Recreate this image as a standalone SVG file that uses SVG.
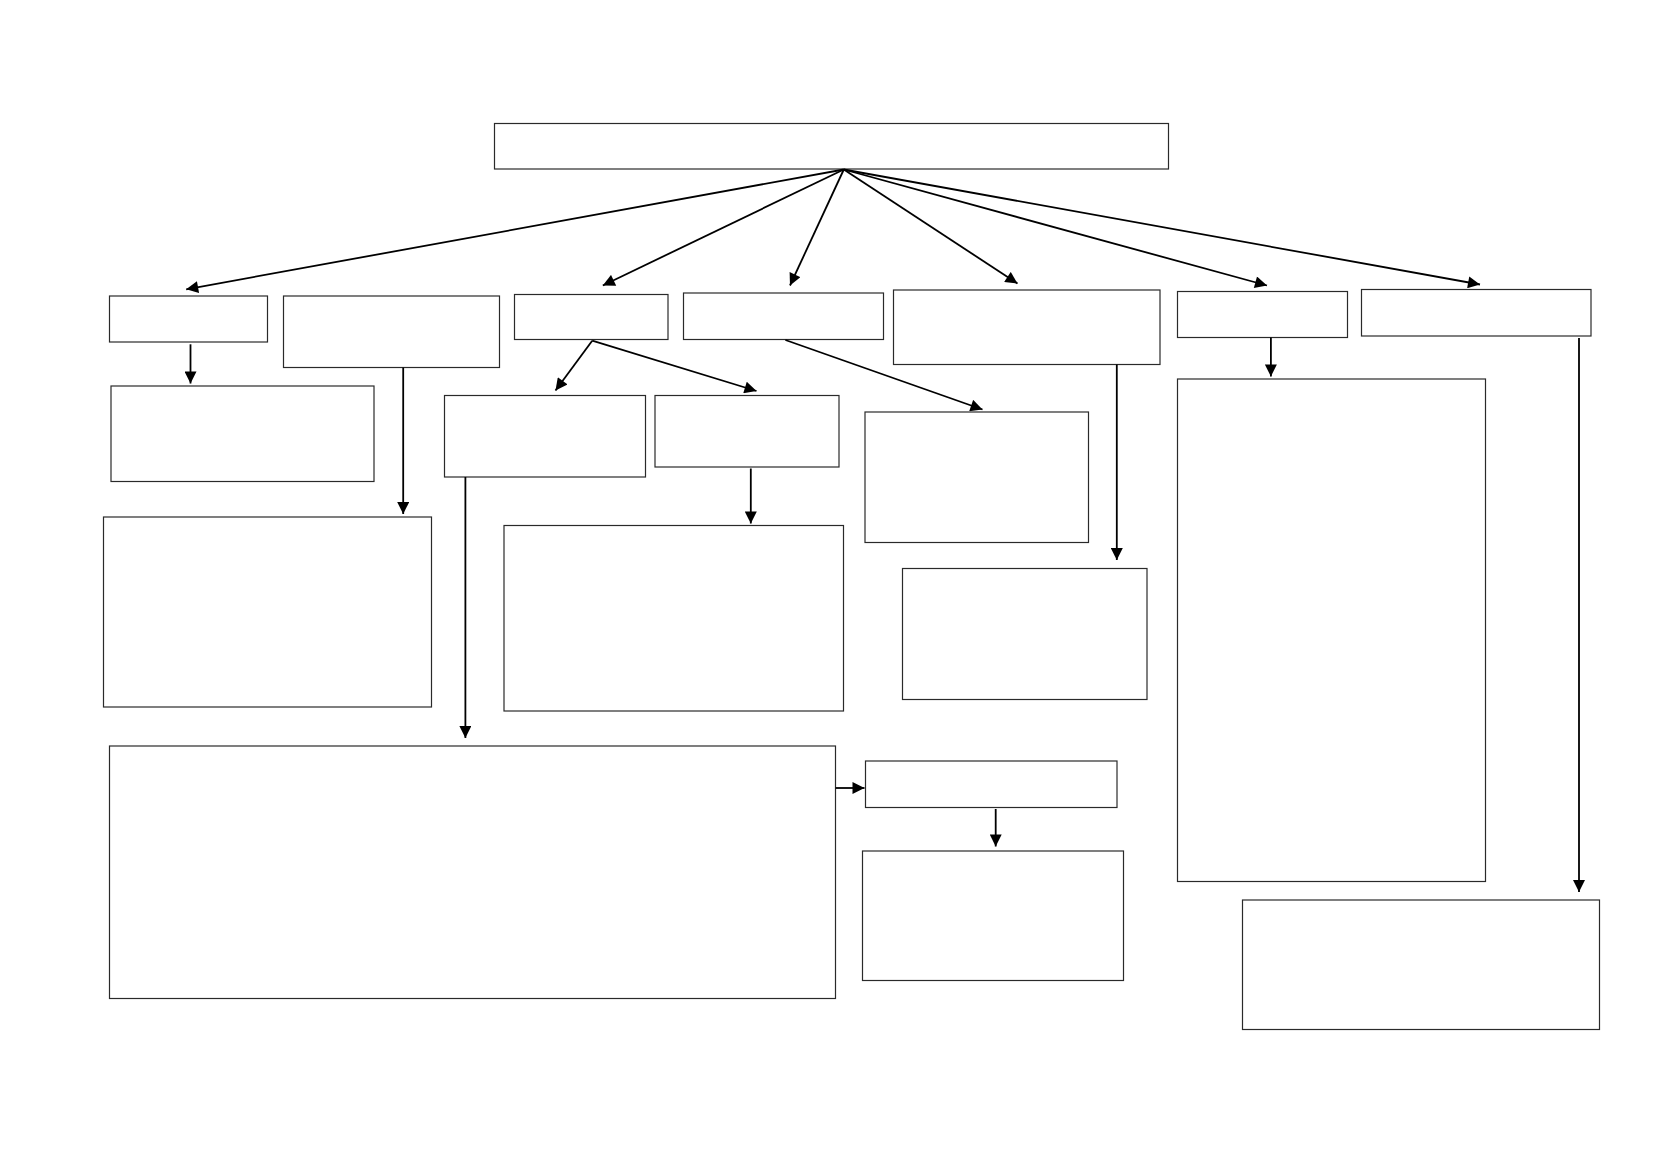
<svg xmlns="http://www.w3.org/2000/svg" width="1662" height="1175" viewBox="0 0 1662 1175">
<style>
.box{fill:#fff;stroke:#2a2a2a;stroke-width:1.2}
.con{fill:none;stroke:#000;stroke-width:1.8}
</style>
<defs>
<marker id="arr" viewBox="0 0 10 10" refX="10" refY="5" markerWidth="13" markerHeight="12" markerUnits="userSpaceOnUse" orient="auto">
<path d="M0,0 L10,5 L0,10 z" fill="#000"/>
</marker>
</defs>
<rect width="1662" height="1175" fill="#fff"/>
<g id="nodes">
<g id="top"><rect class="box" x="494.5" y="123.5" width="674" height="45.5"/></g>
<g id="a"><rect class="box" x="109.5" y="296" width="158" height="46"/></g>
<g id="b"><rect class="box" x="283.5" y="296" width="216" height="71.5"/></g>
<g id="c"><rect class="box" x="514.5" y="294.5" width="153.5" height="45"/></g>
<g id="d"><rect class="box" x="683.5" y="293" width="200" height="46.5"/></g>
<g id="e"><rect class="box" x="893.5" y="290" width="266.5" height="74.5"/></g>
<g id="f"><rect class="box" x="1177.5" y="291.5" width="170" height="46"/></g>
<g id="g"><rect class="box" x="1361.5" y="289.5" width="229.5" height="46.5"/></g>
<g id="a1"><rect class="box" x="111" y="386" width="263" height="95.5"/></g>
<g id="b1"><rect class="box" x="103.5" y="517" width="328" height="190"/></g>
<g id="c1"><rect class="box" x="444.5" y="395.5" width="201" height="81.5"/></g>
<g id="c2"><rect class="box" x="655" y="395.5" width="184" height="71.5"/></g>
<g id="c2a"><rect class="box" x="504" y="525.5" width="339.5" height="185.5"/></g>
<g id="d1"><rect class="box" x="865" y="412" width="223.5" height="130.5"/></g>
<g id="e1"><rect class="box" x="902.5" y="568.5" width="244.5" height="131"/></g>
<g id="f1"><rect class="box" x="1177.5" y="379" width="308" height="502.5"/></g>
<g id="g1"><rect class="box" x="1242.5" y="900" width="357" height="129.5"/></g>
<g id="big"><rect class="box" x="109.5" y="746" width="726" height="252.5"/></g>
<g id="h"><rect class="box" x="865.5" y="761" width="251.5" height="46.5"/></g>
<g id="h1"><rect class="box" x="862.5" y="851" width="261" height="129.5"/></g>
</g>
<g id="connectors">
<line class="con" x1="843.8" y1="169.5" x2="186.2" y2="289.3" marker-end="url(#arr)"/>
<line class="con" x1="843.8" y1="169.5" x2="602.8" y2="285.5" marker-end="url(#arr)"/>
<line class="con" x1="843.8" y1="169.5" x2="790" y2="285.5" marker-end="url(#arr)"/>
<line class="con" x1="843.8" y1="169.5" x2="1017.5" y2="283.5" marker-end="url(#arr)"/>
<line class="con" x1="843.8" y1="169.5" x2="1267" y2="285.5" marker-end="url(#arr)"/>
<line class="con" x1="843.8" y1="169.5" x2="1480" y2="284.5" marker-end="url(#arr)"/>
<line class="con" x1="190.5" y1="344.3" x2="190.5" y2="383.5" marker-end="url(#arr)"/>
<line class="con" x1="403.2" y1="367.5" x2="403.2" y2="514" marker-end="url(#arr)"/>
<line class="con" x1="592.2" y1="340.7" x2="555.5" y2="390.5" marker-end="url(#arr)"/>
<line class="con" x1="592.2" y1="340.7" x2="756.5" y2="391" marker-end="url(#arr)"/>
<line class="con" x1="785.4" y1="340" x2="982.5" y2="409.5" marker-end="url(#arr)"/>
<line class="con" x1="750.8" y1="468.5" x2="750.8" y2="523.5" marker-end="url(#arr)"/>
<line class="con" x1="465.4" y1="477" x2="465.4" y2="738" marker-end="url(#arr)"/>
<line class="con" x1="1116.8" y1="364.5" x2="1116.8" y2="560" marker-end="url(#arr)"/>
<line class="con" x1="1270.9" y1="337.5" x2="1270.9" y2="376.5" marker-end="url(#arr)"/>
<line class="con" x1="1579" y1="338" x2="1579" y2="892" marker-end="url(#arr)"/>
<line class="con" x1="835.6" y1="788" x2="864.5" y2="788" marker-end="url(#arr)"/>
<line class="con" x1="995.7" y1="809" x2="995.7" y2="846.5" marker-end="url(#arr)"/>
</g>
</svg>
